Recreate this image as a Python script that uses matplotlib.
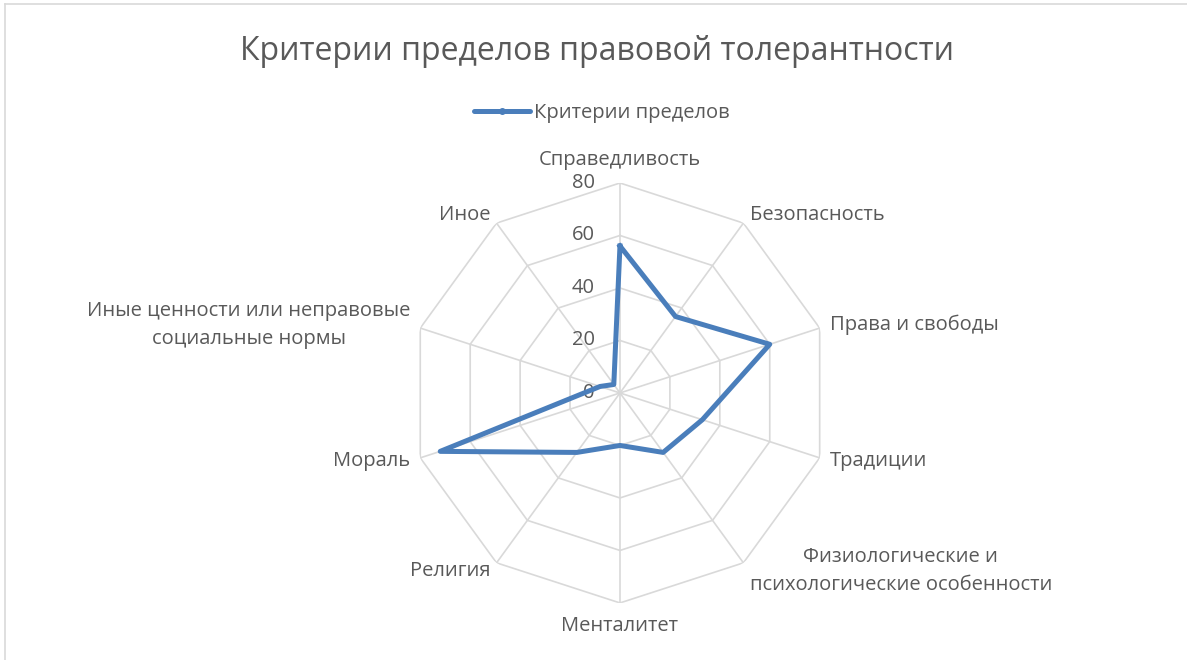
import matplotlib.pyplot as plt
import numpy as np
from matplotlib.lines import Line2D

plt.rcParams['font.family'] = ['Open Sans', 'DejaVu Sans']

categories = ['Справедливость', 'Безопасность', 'Права и свободы', 'Традиции',
              'Физиологические и\nпсихологические особенности', 'Менталитет',
              'Религия', 'Мораль', 'Иные ценности или неправовые\nсоциальные нормы',
              'Иное']
values = [56, 36, 60, 33, 28, 20, 28, 72, 8, 4]
rings = [20, 40, 60, 80]
series_name = 'Критерии пределов'
title = 'Критерии пределов правовой толерантности'

txt = '#595959'
grid = '#d9d9d9'
blue = '#4a7ebb'
fs = 14.5

fig = plt.figure(figsize=(11.87, 6.6), dpi=100)
# chart border (only left and top edges are visible in the crop)
fig.add_artist(Line2D([0.0045, 0.0045], [0, 0.994], transform=fig.transFigure,
                      color=grid, lw=1.2))
fig.add_artist(Line2D([0.0045, 1], [0.994, 0.994], transform=fig.transFigure,
                      color=grid, lw=1.2))

ax = fig.add_axes([0.3454, 0.0864, 0.3538, 0.6364], projection='polar')
ax.set_theta_offset(np.pi / 2)
ax.set_theta_direction(-1)
ax.set_ylim(0, 80)
ax.grid(False)
ax.spines['polar'].set_visible(False)
ax.set_xticks([])
ax.set_yticks([])
ax.patch.set_alpha(0)

n = len(categories)
ang = np.linspace(0, 2 * np.pi, n, endpoint=False)
ang_c = np.append(ang, ang[0])

# polygon grid
for r in rings:
    ax.plot(ang_c, [r] * (n + 1), color=grid, lw=1.2, zorder=1)
for a in ang:
    ax.plot([a, a], [0, 80], color=grid, lw=1.2, zorder=1)

# radial labels
for r in [0] + rings:
    ax.annotate(str(r), xy=(0, r), xytext=(-18, 0), textcoords='offset points',
                ha='right', va='center', fontsize=fs, color=txt)

# data
vals = values + values[:1]
ax.plot(ang_c, vals, color=blue, lw=3.6, solid_joinstyle='round', zorder=3)

# category labels
for a, lab in zip(ang, categories):
    deg = np.degrees(a)
    if deg < 1:
        ax.text(a, 85, lab, ha='center', va='bottom', fontsize=fs, color=txt)
    elif abs(deg - 180) < 1:
        ax.text(a, 85, lab, ha='center', va='top', fontsize=fs, color=txt)
    elif deg < 180:
        ax.text(a, 84, lab, ha='left', va='center', fontsize=fs, color=txt,
                multialignment='center', linespacing=1.55)
    else:
        ax.text(a, 84, lab, ha='right', va='center', fontsize=fs, color=txt,
                multialignment='center', linespacing=1.55)

fig.text(0.503, 0.922, title, ha='center', va='center', fontsize=23, color=txt)

h = Line2D([], [], color=blue, lw=3.6, marker='o', markersize=4, solid_capstyle='round')
fig.legend([h], [series_name], loc='center', bbox_to_anchor=(0.507, 0.829),
           frameon=False, fontsize=fs, labelcolor=txt, handlelength=2.8,
           handletextpad=0.2)

fig.savefig('out.png', dpi=100)
